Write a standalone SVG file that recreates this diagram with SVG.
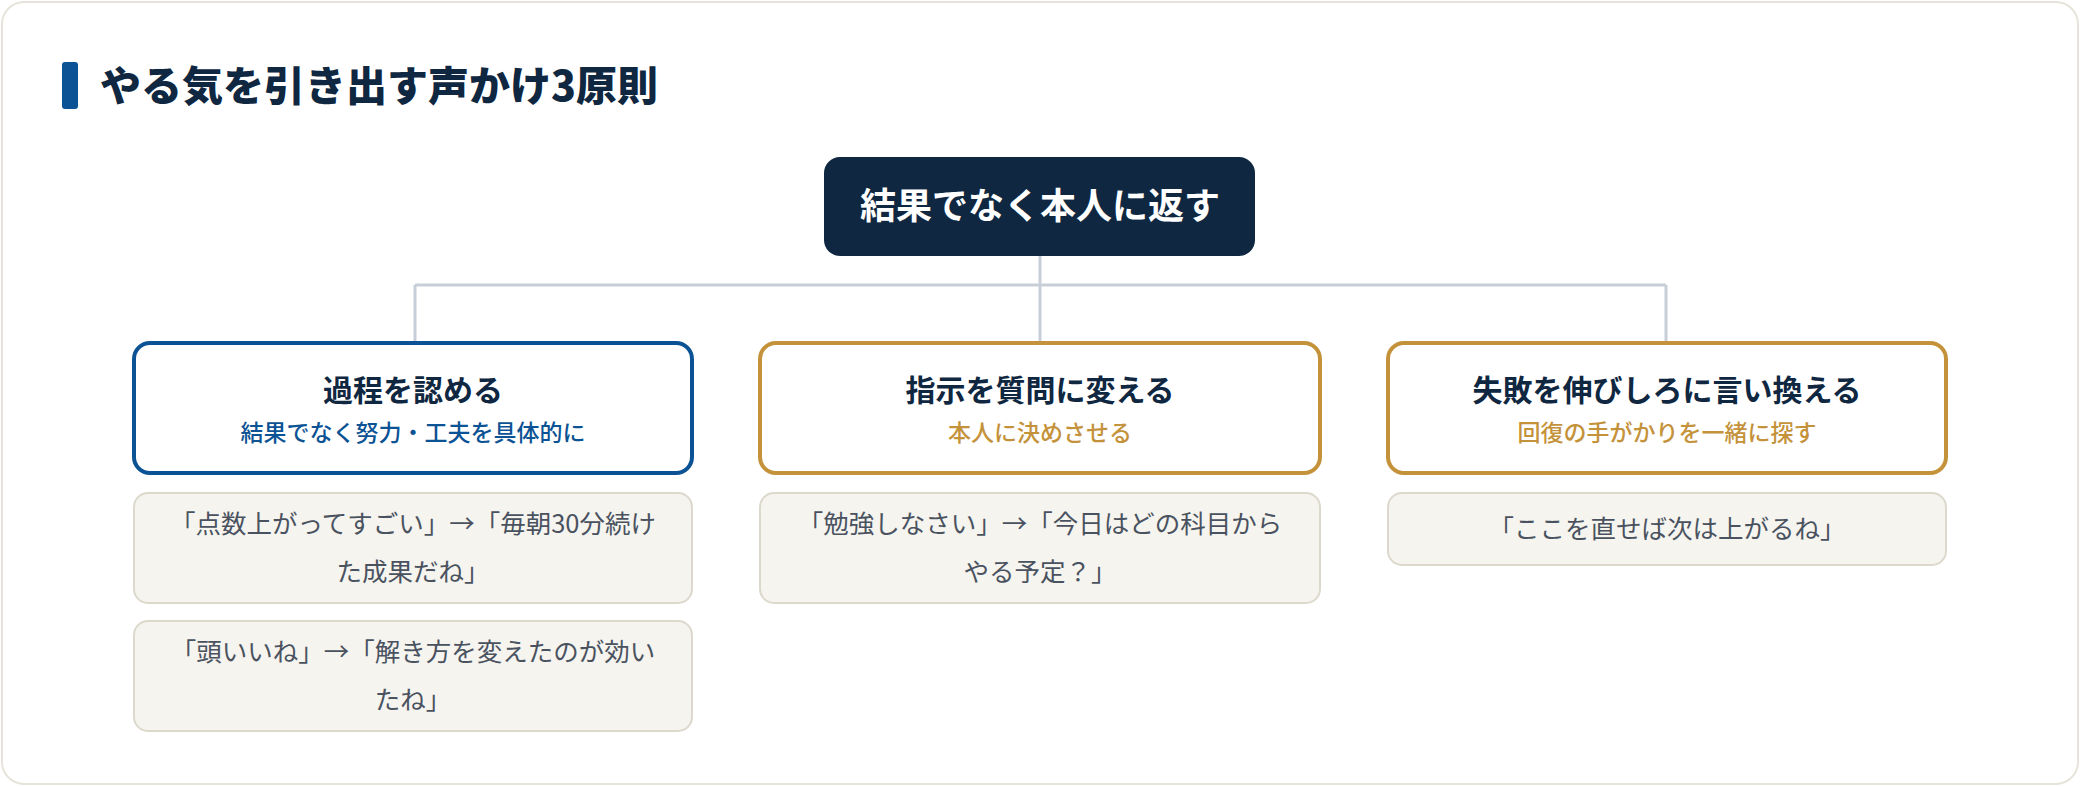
<svg xmlns="http://www.w3.org/2000/svg" width="2080" height="786" viewBox="0 0 2080 786">
<style>
text{font-family:"Noto Sans CJK JP","Noto Sans",sans-serif;text-anchor:middle}
.h{font-weight:700;font-size:30px;fill:#0f2740}
.sb{font-size:23px;fill:#0b5394;font-weight:500}
.sg{font-size:23px;fill:#c4923a;font-weight:500}
.ex{fill:#f5f4ef;stroke:#dcd9cc;stroke-width:2}
.et{font-size:25.5px;fill:#4a5260}
.c{fill:none;stroke:#c8ced8;stroke-width:3}
</style>
<rect x="2" y="2" width="2076" height="782" rx="22" fill="#fff" stroke="#e6e4da" stroke-width="2"/>
<rect x="62" y="62" width="16" height="47" rx="3" fill="#0b5394"/>
<text x="100" y="101" style="text-anchor:start;font-weight:900;font-size:41px;fill:#0f2740">やる気を引き出す声かけ3原則</text>
<g id="connectors">
<path class="c" d="M1040 256V285M415 285H1666M415 285V342M1040 285V342M1666 285V342"/>
</g>
<g id="root">
<rect x="824" y="157" width="431" height="99" rx="16" fill="#0f2740"/>
<text x="1040" y="219" style="font-weight:700;font-size:36px;fill:#fff">結果でなく本人に返す</text>
</g>
<g id="p1">
<rect x="134" y="343" width="558" height="130" rx="16" fill="#fff" stroke="#0b5394" stroke-width="4"/>
<text class="h" x="413" y="401">過程を認める</text>
<text class="sb" x="413" y="441">結果でなく努力・工夫を具体的に</text>
</g>
<g id="p2">
<rect x="760" y="343" width="560" height="130" rx="16" fill="#fff" stroke="#c4923a" stroke-width="4"/>
<text class="h" x="1040" y="401">指示を質問に変える</text>
<text class="sg" x="1040" y="441">本人に決めさせる</text>
</g>
<g id="p3">
<rect x="1388" y="343" width="558" height="130" rx="16" fill="#fff" stroke="#c4923a" stroke-width="4"/>
<text class="h" x="1667" y="401">失敗を伸びしろに言い換える</text>
<text class="sg" x="1667" y="441">回復の手がかりを一緒に探す</text>
</g>
<g id="e1">
<rect class="ex" x="134" y="493" width="558" height="110" rx="14"/>
<text class="et" x="413" y="533">「点数上がってすごい」→「毎朝30分続け</text>
<text class="et" x="413" y="581">た成果だね」</text>
</g>
<g id="e2">
<rect class="ex" x="134" y="621" width="558" height="110" rx="14"/>
<text class="et" x="413" y="661">「頭いいね」→「解き方を変えたのが効い</text>
<text class="et" x="413" y="709">たね」</text>
</g>
<g id="e3">
<rect class="ex" x="760" y="493" width="560" height="110" rx="14"/>
<text class="et" x="1040" y="533">「勉強しなさい」→「今日はどの科目から</text>
<text class="et" x="1040" y="581">やる予定？」</text>
</g>
<g id="e4">
<rect class="ex" x="1388" y="493" width="558" height="72" rx="14"/>
<text class="et" x="1667" y="538">「ここを直せば次は上がるね」</text>
</g>
</svg>
